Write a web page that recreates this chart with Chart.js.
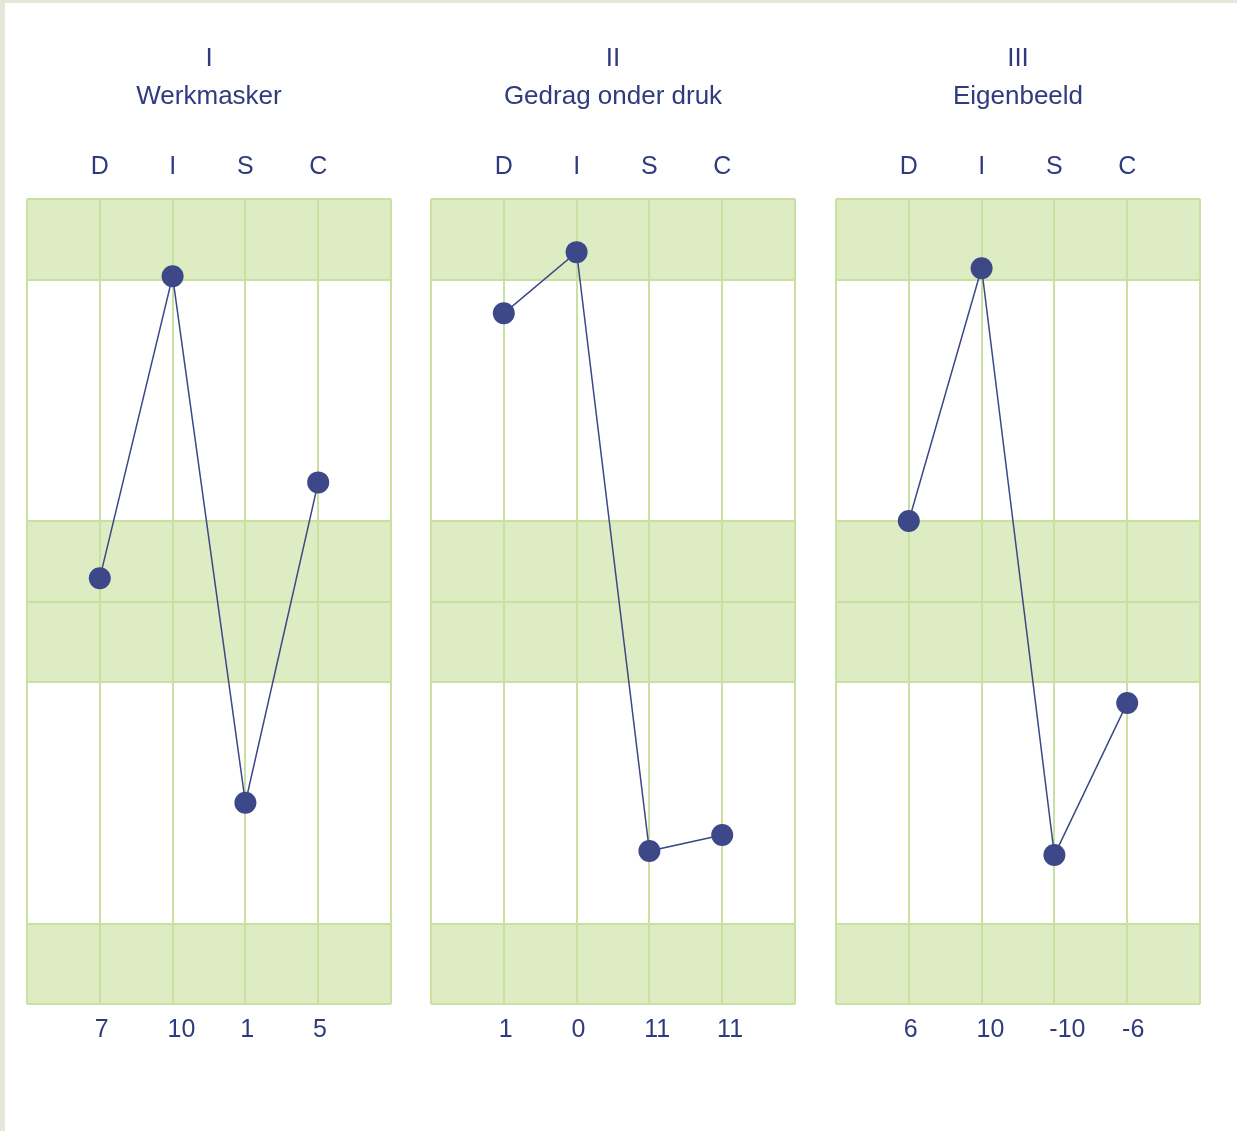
<!DOCTYPE html>
<html>
<head>
<meta charset="utf-8">
<script src="https://cdn.jsdelivr.net/npm/chart.js@4/dist/chart.umd.min.js"></script>
<style>
    html, body { margin: 0; padding: 0; }
    body {
        width: 1237px; height: 1131px; background: #ffffff; position: relative; overflow: hidden;
        border-top: 3px solid #e6e7d8; border-left: 5px solid #e6e7d8; box-sizing: border-box;
    }
    .panel { position: absolute; top: -3px; width: 404px; height: 1131px; }
</style>
</head>
<body>
<div class="panel" style="left: 2px"><canvas id="chart1"></canvas></div>
<div class="panel" style="left: 406px"><canvas id="chart2"></canvas></div>
<div class="panel" style="left: 811px"><canvas id="chart3"></canvas></div>
<script>
// DISC profielen
const factors = ['D', 'I', 'S', 'C'];
const panelTitles = [['I', 'Werkmasker'], ['II', 'Gedrag onder druk'], ['III', 'Eigenbeeld']];

// positie op de grafiek (-5 onderaan, 5 bovenaan)
const werkmasker = [0.29, 4.04, -2.5, 1.48];
const gedragOnderDruk = [3.58, 4.34, -3.1, -2.9];
const eigenbeeld = [1.0, 4.14, -3.15, -1.26];

// scores onder de grafiek
const scoresWerkmasker = ['7', '10', '1', '5'];
const scoresDruk = ['1', '0', '11', '11'];
const scoresEigenbeeld = ['6', '10', '-10', '-6'];

// groene banden en lijnen
const bands = [[4, 5], [0, 1], [-1, 0], [-5, -4]];
const bandLines = [-5, -4, -1, 0, 1, 4, 5];

const textColor = '#2f3b7e';
const dotColor = '#3c4887';
const gridColor = '#c9e0a0';
const bandColor = '#deecc4';
const fontFamily = 'Liberation Sans, Arial, sans-serif';

const bandPlugin = {
    id: 'bands',
    beforeDraw(chart) {
        const { ctx, chartArea, scales } = chart;
        ctx.save();
        ctx.fillStyle = bandColor;
        bands.forEach(b => {
            const top = scales.y.getPixelForValue(b[1]);
            const bottom = scales.y.getPixelForValue(b[0]);
            ctx.fillRect(chartArea.left, top, chartArea.right - chartArea.left, bottom - top);
        });
        ctx.restore();
    }
};

const columnTicks = axis => { axis.ticks = [0, 1, 2, 3, 4, 5].map(v => ({ value: v })); };

function makeChart(id, title, values, scores) {
    const ctx = document.getElementById(id).getContext('2d');
    return new Chart(ctx, {
        type: 'line',
        data: {
            datasets: [{
                data: values.map((v, i) => ({ x: i + 1, y: v })),
                borderColor: dotColor,
                borderWidth: 1.5,
                backgroundColor: dotColor,
                pointBackgroundColor: dotColor,
                pointBorderWidth: 0,
                pointRadius: 11,
                pointHoverRadius: 11,
                tension: 0,
                clip: false
            }]
        },
        plugins: [bandPlugin],
        options: {
            responsive: true,
            maintainAspectRatio: false,
            animation: false,
            layout: { padding: { left: 20, right: 20, top: 0, bottom: 75 } },
            plugins: {
                legend: { display: false },
                tooltip: { enabled: false },
                title: {
                    display: true,
                    text: title,
                    color: textColor,
                    font: { family: fontFamily, size: 26, weight: 'normal', lineHeight: 1.462 },
                    padding: { top: 40, bottom: 19 }
                }
            },
            scales: {
                x: {
                    type: 'linear',
                    position: 'bottom',
                    min: 0,
                    max: 5,
                    afterBuildTicks: columnTicks,
                    grid: { color: gridColor, lineWidth: 2, drawTicks: false },
                    border: { display: false },
                    ticks: { display: false }
                },
                // scores staan iets links van de lijnen
                xScore: {
                    type: 'linear',
                    position: 'bottom',
                    min: 0.07,
                    max: 5.07,
                    afterBuildTicks: axis => { axis.ticks = [1, 2, 3, 4].map(v => ({ value: v })); },
                    grid: { display: false, drawTicks: false },
                    border: { display: false },
                    ticks: {
                        align: 'start',
                        padding: 11,
                        color: textColor,
                        font: { family: fontFamily, size: 25 },
                        callback: v => scores[v - 1] || ''
                    }
                },
                xTop: {
                    type: 'linear',
                    position: 'top',
                    min: 0,
                    max: 5,
                    afterBuildTicks: columnTicks,
                    grid: { display: false, drawTicks: false },
                    border: { display: false },
                    ticks: {
                        padding: 17,
                        color: textColor,
                        font: { family: fontFamily, size: 25 },
                        callback: v => factors[v - 1] || ''
                    }
                },
                y: {
                    min: -5,
                    max: 5,
                    afterBuildTicks: axis => { axis.ticks = bandLines.map(v => ({ value: v })); },
                    grid: { color: gridColor, lineWidth: 2, drawTicks: false },
                    border: { display: false },
                    ticks: { display: false }
                }
            }
        }
    });
}

makeChart('chart1', panelTitles[0], werkmasker, scoresWerkmasker);
makeChart('chart2', panelTitles[1], gedragOnderDruk, scoresDruk);
makeChart('chart3', panelTitles[2], eigenbeeld, scoresEigenbeeld);
</script>
</body>
</html>
